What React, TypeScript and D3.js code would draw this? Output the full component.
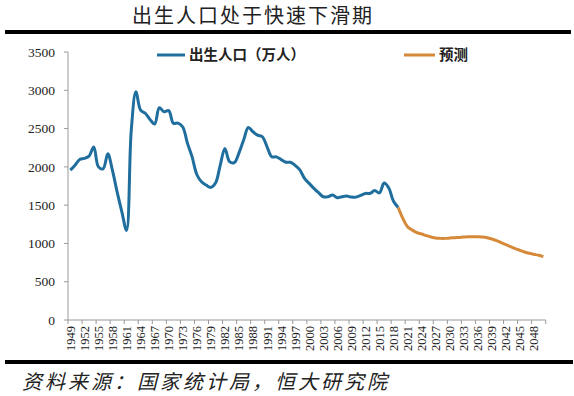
import React from "react";
import * as d3 from "d3";

const years: number[] = d3.range(1949, 2051);
const yTicks = [0, 500, 1000, 1500, 2000, 2500, 3000, 3500];

// births 1949-2019 (万人)
const birthYears: number[] = d3.range(1949, 2020);
const births: number[] = [
  1957, 2022, 2096, 2110, 2140, 2260, 2000, 1975, 2170, 1950,
  1670, 1413, 1170, 2470, 2980, 2740, 2700, 2620, 2560, 2772,
  2720, 2735, 2570, 2570, 2520, 2310, 2130, 1900, 1805, 1762,
  1732, 1788, 2020, 2241, 2067, 2055, 2180, 2350, 2515, 2458,
  2415, 2393, 2262, 2132, 2130, 2095, 2060, 2060, 2020, 1960,
  1850, 1784, 1719, 1662, 1610, 1610, 1632, 1597, 1610, 1619,
  1605, 1605, 1627, 1653, 1653, 1690, 1660, 1789, 1723, 1550,
  1470,
];

// forecast 2019-2050
const forecastYears: number[] = d3.range(2019, 2051);
const forecast: number[] = [
  1470, 1327, 1218, 1175, 1140, 1123, 1101, 1084, 1070, 1066,
  1066, 1070, 1075, 1079, 1084, 1088, 1088, 1088, 1084, 1075,
  1058, 1036, 1010, 984, 958, 932, 910, 888, 871, 858,
  845, 827,
];

const title = "出生人口处于快速下滑期";
const legendLabels = ["出生人口（万人）", "预测"];
const source = "资料来源：国家统计局，恒大研究院";

const BLUE = "#1f6e9e";
const ORANGE = "#d7893a";

export default function App() {
  const W = 574, H = 396;
  const left = 68, right = 545.7, top = 52, bottom = 320;
  const x = d3.scaleBand<number>().domain(years).range([left, right]).padding(0);
  const y = d3.scaleLinear().domain([0, 3500]).range([bottom, top]);
  const cx = (yr: number) => (x(yr) as number) + x.bandwidth() / 2;

  const line = d3
    .line<[number, number]>()
    .x((d) => cx(d[0]))
    .y((d) => y(d[1]))
    .curve(d3.curveCatmullRom.alpha(0.5));

  const histPath = line(birthYears.map((yr, i) => [yr, births[i]] as [number, number])) || "";
  const fcPath = line(forecastYears.map((yr, i) => [yr, forecast[i]] as [number, number])) || "";

  const tickIdx = d3.range(0, years.length + 1, 3);
  const labelYears = years.filter((_, i) => i % 3 === 0);

  const serif = "'Liberation Serif', 'DejaVu Serif', serif";
  const cjk = "'Noto Sans CJK SC', sans-serif";

  return (
    <svg
      width={W}
      height={H}
      style={{ position: "absolute", left: 0, top: 0, background: "#fff" }}
    >
      <rect x={0} y={0} width={W} height={H} fill="#fff" />
      <text
        x={253}
        y={23}
        textAnchor="middle"
        fontFamily={cjk}
        fontSize={20}
        letterSpacing={2}
        fill="#222"
      >
        {title}
      </text>
      <rect x={5} y={30} width={566} height={4} fill="#000" />

      {/* y axis */}
      <line x1={left} x2={left} y1={top} y2={bottom} stroke="#999" strokeWidth={1} />
      {yTicks.map((t) => (
        <g key={t}>
          <line x1={left - 4} x2={left} y1={y(t)} y2={y(t)} stroke="#999" />
          <text
            x={55}
            y={y(t)}
            dy="0.35em"
            textAnchor="end"
            fontFamily={serif}
            fontSize={13.5}
            fill="#222"
          >
            {t}
          </text>
        </g>
      ))}

      {/* x axis */}
      <line x1={left} x2={right} y1={bottom} y2={bottom} stroke="#999" strokeWidth={1} />
      {tickIdx.map((i) => {
        const xx = left + i * x.bandwidth();
        return <line key={i} x1={xx} x2={xx} y1={bottom} y2={bottom + 4} stroke="#999" />;
      })}
      {labelYears.map((yr) => (
        <text
          key={yr}
          transform={`translate(${cx(yr) + 4.5},${326}) rotate(-90)`}
          textAnchor="end"
          fontFamily={serif}
          fontSize={12.5}
          fill="#222"
        >
          {yr}
        </text>
      ))}

      {/* lines */}
      <path d={histPath} fill="none" stroke={BLUE} strokeWidth={3} strokeLinejoin="round" />
      <path d={fcPath} fill="none" stroke={ORANGE} strokeWidth={3} strokeLinejoin="round" />

      {/* legend */}
      <line x1={157} x2={185} y1={55} y2={55} stroke={BLUE} strokeWidth={3} />
      <text x={189} y={55} dy="0.35em" fontFamily={cjk} fontSize={14.5} fontWeight={700} fill="#222">
        {legendLabels[0]}
      </text>
      <line x1={404} x2={435} y1={55} y2={55} stroke={ORANGE} strokeWidth={3} />
      <text x={439} y={55} dy="0.35em" fontFamily={cjk} fontSize={14.5} fontWeight={700} fill="#222">
        {legendLabels[1]}
      </text>

      <rect x={5} y={360} width={568} height={4} fill="#000" />
      <text
        x={22}
        y={389}
        fontFamily={cjk}
        fontStyle="italic"
        fontSize={20}
        letterSpacing={3}
        fill="#222"
      >
        {source}
      </text>
    </svg>
  );
}
